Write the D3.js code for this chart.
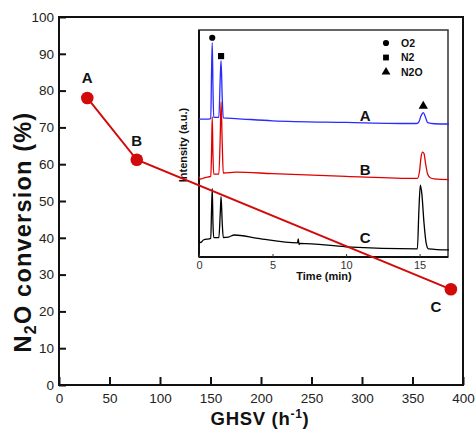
<!DOCTYPE html>
<html><head><meta charset="utf-8">
<script src="https://cdn.jsdelivr.net/npm/d3@7"></script>
<style>
html,body{margin:0;padding:0;background:#fff;}
svg text{font-family:"Liberation Sans",Arial,Helvetica,sans-serif;}
</style></head>
<body><svg id="c" width="475" height="432"></svg>
<script>
// ---- main chart data ----
const samples = ["A", "B", "C"];
const ghsv = [28, 77, 388];
const conversion = [78, 61.2, 26];
const xTicks = [0, 50, 100, 150, 200, 250, 300, 350, 400];
const yTicks = [0, 10, 20, 30, 40, 50, 60, 70, 80, 90, 100];

// ---- inset chromatogram data (time min, intensity a.u.) ----
const timeA = [0, 0.5, 0.8, 0.85, 0.9, 0.95, 1.0, 1.35, 1.45, 1.5, 1.58, 1.65, 2.5, 5, 10, 14.8, 14.95, 15.1, 15.25, 15.4, 15.55, 16, 17];
const traceA = [60.7, 60.7, 61.0, 80, 94.4, 75, 61.5, 61.5, 80, 86.5, 70, 61.3, 61.0, 60.0, 59.3, 58.8, 59.5, 62.2, 63.6, 61.6, 59.2, 58.7, 58.6];
const timeB = [0, 0.1, 0.4, 0.8, 0.85, 0.9, 0.95, 1.0, 1.35, 1.45, 1.5, 1.58, 1.65, 2.5, 5, 10, 14.85, 15.0, 15.1, 15.2, 15.3, 15.4, 15.55, 15.75, 16, 17];
const traceB = [35.5, 34.3, 35.0, 35.5, 45, 61.7, 45, 36.5, 36.5, 55, 68.3, 50, 37.0, 37.4, 36.7, 35.5, 34.6, 38, 44, 46.2, 45.6, 41.5, 36.5, 34.8, 34.4, 34.1];
const timeC = [0, 0.1, 0.3, 0.8, 0.85, 0.9, 0.95, 1.0, 1.35, 1.45, 1.5, 1.58, 1.65, 2.0, 2.4, 4, 6.7, 6.75, 6.8, 6.85, 10, 14.85, 14.95, 15.05, 15.15, 15.3, 15.45, 15.6, 17];
const traceC = [7.2, 6.3, 7.5, 8.2, 20, 30.2, 15, 8.5, 8.5, 20, 26.6, 15, 8.6, 8.8, 9.7, 8.2, 6.2, 8.0, 5.5, 6.0, 4.5, 3.6, 20, 31.7, 28, 15, 6, 3.6, 3.1];
const insetXTicks = [0, 5, 10, 15];
const traceLabels = ["A", "B", "C"];
const traceLabelAt = [[11.3, 62.5], [11.3, 38.5], [11.3, 8.5]];
const peakMarkers = [["circle", 0.9, 96.6], ["square", 1.5, 88.5], ["triangle", 15.25, 66.5]];
const legendItems = ["O2", "N2", "N2O"];

const svg = d3.select("#c");

// ---- scales ----
const x = d3.scaleLinear().domain([0, 400]).range([59, 463]);
const y = d3.scaleLinear().domain([0, 100]).range([385, 17]);
const ix = d3.scaleLinear().domain([0, 17]).range([199, 449]);
const iy = d3.scaleLinear().domain([0, 100]).range([257, 30]);

// ---- main axes ----
const gx = svg.append("g").attr("transform", "translate(0,385)")
  .call(d3.axisBottom(x).tickValues(xTicks).tickSizeInner(-8).tickSizeOuter(0).tickPadding(6));
const gy = svg.append("g").attr("transform", "translate(59,0)")
  .call(d3.axisLeft(y).tickValues(yTicks).tickSizeInner(-7).tickSizeOuter(0).tickPadding(5));
[gx, gy].forEach(g => {
  g.select(".domain").remove();
  g.selectAll(".tick line").attr("stroke", "#111").attr("stroke-width", 2);
  g.selectAll(".tick text").attr("fill", "#222").style("font-size", "13.5px");
});
gx.selectAll(".tick text").attr("dy", "0.9em");
// frame
svg.append("rect").attr("x", 59).attr("y", 17).attr("width", 404).attr("height", 368)
  .attr("fill", "none").attr("stroke", "#111").attr("stroke-width", 2);

// axis titles
svg.append("text").attr("x", 260).attr("y", 425).attr("text-anchor", "middle")
  .style("font-size", "18.5px").style("font-weight", "bold").style("letter-spacing", "0.7px").attr("fill", "#111")
  .call(t => { t.append("tspan").text("GHSV (h");
               t.append("tspan").attr("dy", -7).style("font-size", "12px").text("-1");
               t.append("tspan").attr("dy", 7).text(")"); });
svg.append("text").attr("transform", "translate(31,232) rotate(-90)").attr("text-anchor", "middle")
  .style("font-size", "23.5px").style("font-weight", "bold").style("letter-spacing", "1.2px").attr("fill", "#111")
  .call(t => { t.append("tspan").text("N");
               t.append("tspan").attr("dy", 5).style("font-size", "16px").text("2");
               t.append("tspan").attr("dy", -5).text("O conversion (%)"); });

// ---- inset ----
const inset = svg.append("g");
inset.append("rect").attr("x", 199).attr("y", 30).attr("width", 249).attr("height", 227)
  .attr("fill", "#fff").attr("stroke", "#333").attr("stroke-width", 1.5);
inset.append("line").attr("x1", 199).attr("x2", 199).attr("y1", 30).attr("y2", 257).attr("stroke", "#111").attr("stroke-width", 2);
inset.append("line").attr("x1", 199).attr("x2", 448).attr("y1", 257).attr("y2", 257).attr("stroke", "#111").attr("stroke-width", 2);
const igx = inset.append("g").attr("transform", "translate(0,257)")
  .call(d3.axisBottom(ix).tickValues(insetXTicks).tickSizeInner(-3).tickSizeOuter(0).tickPadding(4));
igx.select(".domain").remove();
igx.selectAll(".tick line").attr("stroke", "#333");
igx.selectAll(".tick text").attr("fill", "#333").style("font-size", "11px").attr("dy", "0.75em");
inset.append("text").attr("x", 324).attr("y", 280).attr("text-anchor", "middle")
  .style("font-size", "11px").style("font-weight", "bold").attr("fill", "#111").text("Time (min)");
inset.append("text").attr("transform", "translate(187,145) rotate(-90)").attr("text-anchor", "middle")
  .style("font-size", "11px").style("font-weight", "bold").attr("fill", "#111").text("Intensity (a.u.)");

const line = d3.line().x(d => ix(d[0])).y(d => iy(d[1])).curve(d3.curveMonotoneX);
[[timeA, traceA, "#2a2aff"], [timeB, traceB, "#e00000"], [timeC, traceC, "#000"]].forEach(([t, v, col]) => {
  inset.append("path").datum(t.map((ti, i) => [ti, v[i]]))
    .attr("d", line).attr("fill", "none").attr("stroke", col).attr("stroke-width", 1.3);
});
traceLabels.forEach((lab, i) => {
  inset.append("text").attr("x", ix(traceLabelAt[i][0])).attr("y", iy(traceLabelAt[i][1]))
    .attr("text-anchor", "middle").attr("dy", "0.36em")
    .style("font-size", "15px").style("font-weight", "bold").attr("fill", "#111").text(lab);
});
const symType = {circle: d3.symbolCircle, square: d3.symbolSquare, triangle: d3.symbolTriangle};
peakMarkers.forEach(([s, t, v]) => {
  inset.append("path").attr("d", d3.symbol().type(symType[s]).size(s === "circle" ? 30 : 38)())
    .attr("transform", `translate(${ix(t)},${iy(v)})`).attr("fill", "#000");
});
legendItems.forEach((lab, i) => {
  const ly = 43 + i * 14.5;
  inset.append("path").attr("d", d3.symbol().type(symType[peakMarkers[i][0]]).size(i === 0 ? 30 : 34)())
    .attr("transform", `translate(386,${ly})`).attr("fill", "#000");
  inset.append("text").attr("x", 401).attr("y", ly).attr("dy", "0.36em")
    .style("font-size", "10.5px").style("font-weight", "bold").attr("fill", "#111").text(lab);
});

// ---- main data ----
const pts = ghsv.map((g, i) => [g, conversion[i]]);
svg.append("path").datum(pts).attr("d", d3.line().x(d => x(d[0])).y(d => y(d[1])))
  .attr("fill", "none").attr("stroke", "#d20a0a").attr("stroke-width", 2);
svg.selectAll(".pt").data(pts).enter().append("circle")
  .attr("cx", d => x(d[0])).attr("cy", d => y(d[1])).attr("r", 6.3).attr("fill", "#d20a0a");
const labOff = [[0, -20], [0, -19], [-15, 17]];
samples.forEach((s, i) => {
  svg.append("text").attr("x", x(ghsv[i]) + labOff[i][0]).attr("y", y(conversion[i]) + labOff[i][1])
    .attr("text-anchor", "middle").attr("dy", "0.36em")
    .style("font-size", "15px").style("font-weight", "bold").attr("fill", "#111").text(s);
});
</script></body></html>
